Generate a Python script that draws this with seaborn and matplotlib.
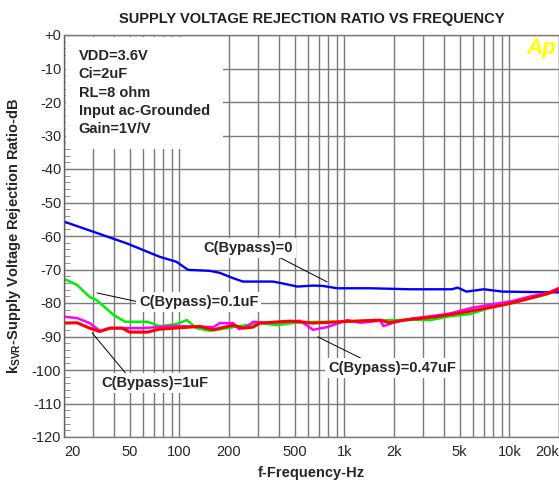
import numpy as np
import pandas as pd
import seaborn as sns
import matplotlib.pyplot as plt
from matplotlib.ticker import FixedLocator, LogLocator, NullFormatter, MultipleLocator

# C(Bypass)=0
freq_0 = [20, 30, 48, 76, 96, 113, 153, 176, 212, 243, 368, 408, 520, 646, 740, 905,
          1430, 2500, 4500, 4850, 5500, 7000, 9100, 17800, 20000]
db_0 = [-55.7, -58.7, -62.2, -66.2, -67.7, -70.1, -70.4, -71.0, -72.6, -73.6, -73.6, -74.0,
        -75.1, -74.8, -74.9, -75.6, -75.6, -75.9, -75.9, -75.4, -76.6, -75.9, -76.6, -76.8, -76.8]

# C(Bypass)=0.1uF
freq_01 = [20, 24, 28.6, 31.5, 40, 47, 64, 76, 96, 111, 127, 153, 212, 307, 392, 540, 940,
           1650, 2600, 3330, 4300, 5800, 8100, 10500, 13500, 17000, 20000]
db_01 = [-72.8, -74.6, -78.2, -79.1, -83.6, -85.6, -85.6, -86.9, -86.3, -85.1, -87.5, -88.3,
         -87.2, -86.0, -86.6, -85.7, -85.6, -85.2, -85.0, -85.1, -84.0, -83.3, -81.0, -80.0,
         -78.4, -77.4, -75.7]

# C(Bypass)=0.47uF
freq_047 = [20, 24, 28.6, 33, 38, 60, 88, 121, 161, 176, 212, 230, 258, 280, 350, 540, 646,
            786, 1040, 1250, 1650, 1730, 2030, 2600, 3300, 4300, 6000, 8100, 10500, 13500,
            17000, 20000]
db_047 = [-84.1, -84.5, -86.0, -88.3, -87.5, -87.5, -86.9, -87.0, -87.2, -86.0, -86.0, -87.8,
          -87.0, -85.6, -86.0, -85.3, -88.0, -87.2, -85.1, -85.9, -85.3, -86.9, -85.7, -84.6,
          -84.0, -83.2, -81.4, -80.3, -79.4, -78.0, -77.0, -75.5]

# C(Bypass)=1uF
freq_1 = [20, 24, 28.6, 33, 38, 45, 50, 64, 76, 133, 161, 212, 243, 280, 307, 470, 646, 940,
          1650, 1880, 2300, 3600, 4850, 6650, 9100, 11100, 14600, 17800, 20000]
db_1 = [-86.0, -85.9, -87.5, -88.5, -87.5, -87.5, -88.7, -88.7, -87.8, -87.0, -88.0, -86.6,
        -87.5, -87.2, -86.0, -85.4, -86.0, -85.6, -85.1, -85.9, -85.1, -84.1, -83.1, -81.9,
        -80.6, -79.6, -78.1, -76.9, -75.9]

xtick_vals = [20, 50, 100, 200, 500, 1000, 2000, 5000, 10000, 20000]
xtick_labels = ['20', '50', '100', '200', '500', '1k', '2k', '5k', '10k', '20k']
ytick_vals = list(range(0, -130, -10))
ytick_labels = ['+0'] + [str(v) for v in ytick_vals[1:]]

sns.set_style('white')
plt.rcParams['font.family'] = ['Liberation Sans', 'DejaVu Sans']
plt.rcParams['mathtext.fontset'] = 'custom'
plt.rcParams['mathtext.rm'] = 'Liberation Sans'
plt.rcParams['mathtext.bf'] = 'Liberation Sans:bold'

fig = plt.figure(figsize=(5.59, 4.88), dpi=100)
ax = fig.add_axes([64 / 559, 1 - 437 / 488, 495 / 559, 402 / 488])

grid_c = '#7a7a7a'
sns.lineplot(x=freq_0, y=db_0, color='#0000ff', lw=1.7, ax=ax)
sns.lineplot(x=freq_01, y=db_01, color='#00ee00', lw=1.8, ax=ax)
sns.lineplot(x=freq_047, y=db_047, color='#ff00ff', lw=1.8, ax=ax)
sns.lineplot(x=freq_1, y=db_1, color='#ff0000', lw=2.2, ax=ax)

ax.set_xscale('log')
ax.set_xlim(20, 20000)
ax.set_ylim(-120, 0)
ax.xaxis.set_major_locator(FixedLocator(xtick_vals))
ax.set_xticklabels(xtick_labels)
ax.xaxis.set_minor_locator(LogLocator(subs=np.arange(1, 10)))
ax.xaxis.set_minor_formatter(NullFormatter())
ax.set_yticks(ytick_vals)
ax.set_yticklabels(ytick_labels)
ax.yaxis.set_minor_locator(MultipleLocator(2))
ax.tick_params(axis='x', which='both', length=0, labelsize=10.5, pad=6)
ax.tick_params(axis='y', which='major', direction='in', length=6, color='#808080',
               labelsize=10.5, pad=2, left=True)
ax.tick_params(axis='y', which='minor', direction='in', length=4, color='#808080', left=True)
xl = ax.get_xticklabels()
xl[0].set_ha('left')
xl[-1].set_ha('right')

ax.grid(True, which='both', axis='x', color=grid_c, lw=1.0)
ax.grid(True, which='major', axis='y', color=grid_c, lw=1.0)
for s in ax.spines.values():
    s.set_color(grid_c)
    s.set_linewidth(1.0)
ax.spines['left'].set_color('#606060')

ax.set_title('SUPPLY VOLTAGE REJECTION RATIO VS FREQUENCY', fontsize=10.5,
             fontweight='bold', pad=9, color='#202020')
ax.set_xlabel('f-Frequency-Hz', fontsize=10.5, fontweight='bold', labelpad=5)
ax.set_ylabel(r'$\mathbf{k_{SVR}}$-Supply Voltage Rejection Ratio-dB', fontsize=10.5,
              fontweight='bold', labelpad=6)

ax.text(0.03, 0.965, 'VDD=3.6V\nCi=2uF\nRL=8 ohm\nInput ac-Grounded\nGain=1V/V',
        transform=ax.transAxes, ha='left', va='top', fontsize=10.5, fontweight='bold',
        linespacing=1.39, zorder=4,
        bbox=dict(facecolor='white', edgecolor='none', pad=9))
ax.text(0.994, 0.993, 'Ap', transform=ax.transAxes, ha='right', va='top', fontsize=16,
        fontweight='bold', style='italic', color='#ffff00', zorder=4)

box = dict(facecolor='white', edgecolor='none', pad=2)
arrow = dict(arrowstyle='-', color='black', lw=0.7, shrinkA=0, shrinkB=0)
ax.annotate('C(Bypass)=0', xy=(786, -73.7), xytext=(261, -63.6), ha='center', va='center',
            fontsize=10.5, fontweight='bold', bbox=box, zorder=4,
            arrowprops=dict(arrow, relpos=(0.8, 0)))
ax.annotate('C(Bypass)=0.1uF', xy=(31.7, -77.0), xytext=(131, -79.7), ha='center',
            va='center', fontsize=10.5, fontweight='bold', bbox=box, zorder=4,
            arrowprops=dict(arrow, relpos=(0, 0.5)))
ax.annotate('C(Bypass)=1uF', xy=(29.6, -88.9), xytext=(71, -103.9), ha='center',
            va='center', fontsize=10.5, fontweight='bold', bbox=box, zorder=4,
            arrowprops=dict(arrow, relpos=(0.25, 1)))
ax.annotate('C(Bypass)=0.47uF', xy=(690, -90.1), xytext=(1946, -99.4), ha='center',
            va='center', fontsize=10.5, fontweight='bold', bbox=box, zorder=4,
            arrowprops=dict(arrow, relpos=(0.3, 1)))

fig.savefig('out.png', dpi=100)
